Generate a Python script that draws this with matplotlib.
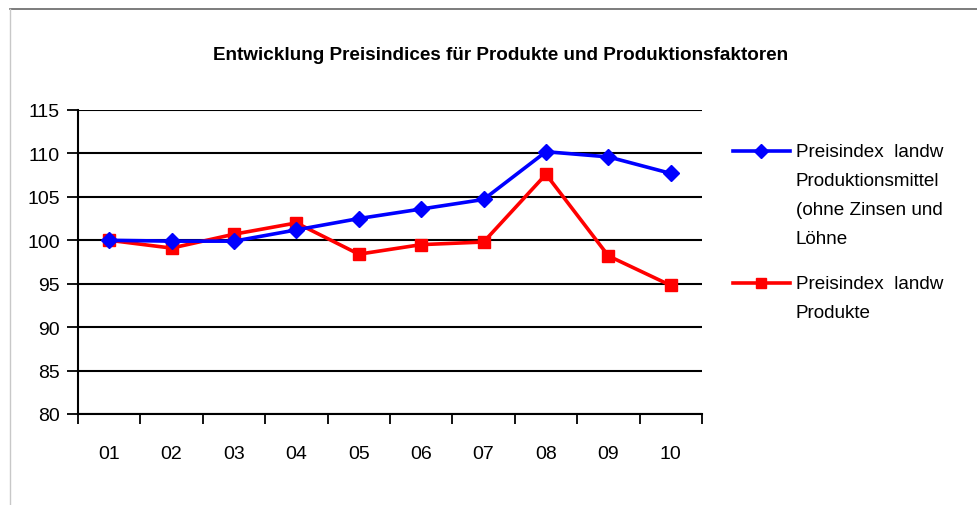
import matplotlib
matplotlib.use("Agg")
import matplotlib.pyplot as plt
from matplotlib.lines import Line2D

years = ["01", "02", "03", "04", "05", "06", "07", "08", "09", "10"]
mittel = [100.0, 99.9, 99.9, 101.2, 102.5, 103.6, 104.7, 110.2, 109.6, 107.7]
produkte = [100.0, 99.1, 100.7, 102.0, 98.4, 99.5, 99.8, 107.6, 98.2, 94.8]
label_mittel = "Preisindex  landw\nProduktionsmittel\n(ohne Zinsen und\nLöhne"
label_produkte = "Preisindex  landw\nProdukte"
title = "Entwicklung Preisindices für Produkte und Produktionsfaktoren"
yticks = [80, 85, 90, 95, 100, 105, 110, 115]

plt.rcParams["font.family"] = ["Liberation Sans", "DejaVu Sans"]

W, H = 978, 506
fig = plt.figure(figsize=(W / 100, H / 100), dpi=100)

def fx(x):
    return x / W

def fy(y):
    return 1 - y / H

ax = fig.add_axes([fx(78), fy(415), fx(702) - fx(78), fy(111) - fy(415)])
x = list(range(len(years)))
ax.plot(x, mittel, color="#0000FF", lw=2.6, marker="D", ms=8, zorder=4)
ax.plot(x, produkte, color="#FF0000", lw=2.6, marker="s", ms=8.5, zorder=3)

ax.set_xlim(-0.5, len(years) - 0.5)
ax.set_ylim(80, 115)
ax.set_yticks(yticks)
ax.set_yticklabels([str(v) for v in yticks], fontsize=14)
ax.set_xticks([i - 0.5 for i in range(len(years) + 1)])
ax.set_xticklabels([])
ax.set_xticks(x, minor=True)
ax.set_xticklabels(years, minor=True, fontsize=14)
ax.tick_params(axis="x", which="minor", length=0, pad=22)
ax.tick_params(axis="x", which="major", length=7, width=1.3, direction="out", color="black")
ax.tick_params(axis="y", length=8, width=1.3, direction="out", pad=5)
for s in ["top", "right"]:
    ax.spines[s].set_visible(False)
ax.spines["left"].set_linewidth(1.5)
ax.spines["bottom"].set_linewidth(1.5)
ax.grid(axis="y", color="black", lw=1.5)
ax.set_axisbelow(True)

fig.text(0.5 * (fx(210) + fx(792)), fy(55), title, ha="center", va="center",
         fontsize=13.6, fontweight="bold")

# legend
fig.add_artist(Line2D([fx(733), fx(790)], [fy(152), fy(152)], color="#0000FF", lw=2.6,
                      transform=fig.transFigure))
fig.add_artist(Line2D([fx(761.5)], [fy(152)], color="#0000FF", marker="D", ms=7,
                      transform=fig.transFigure))
fig.add_artist(Line2D([fx(733), fx(790)], [fy(284), fy(284)], color="#FF0000", lw=2.6,
                      transform=fig.transFigure))
fig.add_artist(Line2D([fx(761.5)], [fy(284)], color="#FF0000", marker="s", ms=7,
                      transform=fig.transFigure))
fig.text(fx(796), fy(144), label_mittel, ha="left", va="top", fontsize=13.6, linespacing=1.92)
fig.text(fx(796), fy(276), label_produkte, ha="left", va="top", fontsize=13.6, linespacing=1.92)

# frame lines
fig.add_artist(Line2D([fx(10), fx(977)], [fy(10), fy(10)], color="#666666", lw=1.2,
                      transform=fig.transFigure))
fig.add_artist(Line2D([fx(10), fx(10)], [fy(10), fy(505)], color="#c8c8c8", lw=1.0,
                      transform=fig.transFigure))

fig.savefig("out.png", dpi=100)
